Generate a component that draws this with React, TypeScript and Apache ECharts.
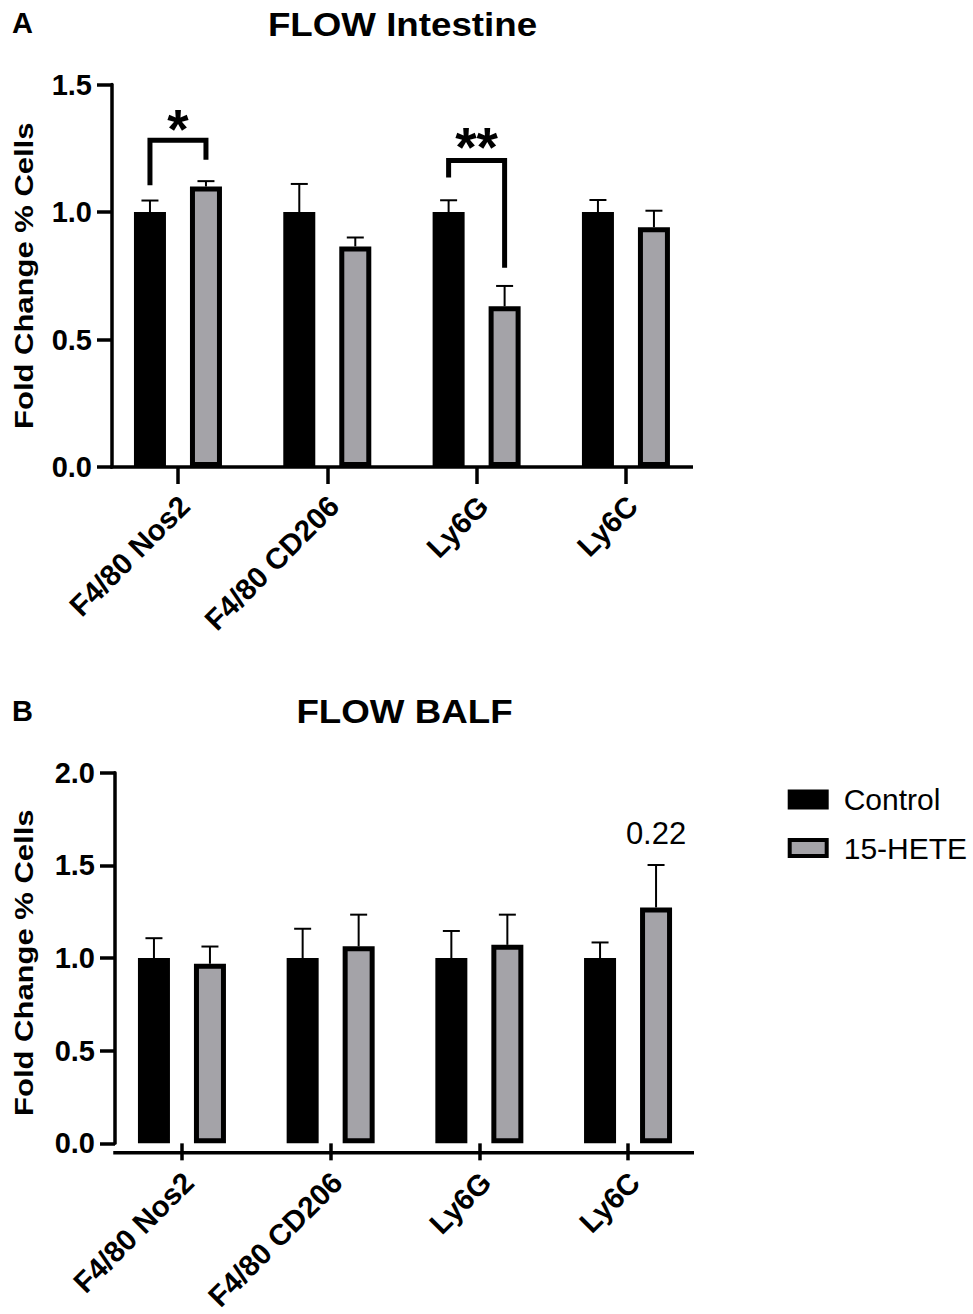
import React, { useEffect, useRef } from 'react';
import * as echarts from 'echarts';

// ---------------- data ----------------
const categories = ['F4/80 Nos2', 'F4/80 CD206', 'Ly6G', 'Ly6C'];
const seriesNames = ['Control', '15-HETE'];

const intestineControl = [1.0, 1.0, 1.0, 1.0];
const intestineControlSem = [0.045, 0.11, 0.046, 0.047];
const intestineHete = [1.1, 0.865, 0.63, 0.94];
const intestineHeteSem = [0.021, 0.035, 0.08, 0.065];

const balfControl = [1.0, 1.0, 1.0, 1.0];
const balfControlSem = [0.107, 0.158, 0.146, 0.084];
const balfHete = [0.969, 1.063, 1.071, 1.273];
const balfHeteSem = [0.093, 0.171, 0.163, 0.229];

const intestineAxis = { min: 0, max: 1.5, interval: 0.5 };
const balfAxis = { min: 0, max: 2.0, interval: 0.5 };

// significance brackets (category index, left leg bottom, top, right leg bottom, label, label y)
const intestineBrackets = [
  { cat: 0, left: 1.105, top: 1.281, right: 1.205, label: '*', labelY: 1.325 },
  { cat: 2, left: 1.135, top: 1.202, right: 0.781, label: '**', labelY: 1.255 },
];
// p-value annotations (category index, group index, y, text)
const balfNotes = [{ cat: 3, group: 1, y: 1.672, label: '0.22' }];

const panelTitles = ['FLOW Intestine', 'FLOW BALF'];
const panelLetters = ['A', 'B'];
const yAxisTitle = 'Fold Change % Cells';

// ---------------- style / layout ----------------
const FONT = '"Liberation Sans", Arial, Helvetica, sans-serif';
const GREY = '#a4a3a8';
const BAR_W = 32;
const BAR_GAP_PX = 24;
const BAR_OFFSET = (BAR_W + BAR_GAP_PX) / 2;
const CAP = 17;

const PANELS = [
  { gridLeft: 103.3, gridTop: 84.5, gridWidth: 597.3, gridHeight: 382.5, axisX: 112, axisEndX: 693, titleY: 24, letterY: 23, titleX: 402.5 },
  { gridLeft: 107.6, gridTop: 772.7, gridWidth: 594.8, gridHeight: 380, axisX: 115, axisEndX: 694, titleY: 711, letterY: 711, titleX: 404.5 },
];

function errorSeries(means: number[], sems: number[], group: number, axisIdx: number) {
  return {
    type: 'custom',
    xAxisIndex: axisIdx,
    yAxisIndex: axisIdx,
    z: 5,
    silent: true,
    data: means.map((m, i) => [i, m, m + sems[i]]),
    encode: { x: 0, y: [1, 2] },
    renderItem: (params: any, api: any) => {
      const base = api.coord([api.value(0), api.value(1)]);
      const top = api.coord([api.value(0), api.value(2)]);
      const x = base[0] + (group === 0 ? -BAR_OFFSET : BAR_OFFSET);
      return {
        type: 'group',
        children: [
          { type: 'line', shape: { x1: x, y1: base[1], x2: x, y2: top[1] }, style: { stroke: '#000', lineWidth: 2 } },
          { type: 'line', shape: { x1: x - CAP / 2, y1: top[1], x2: x + CAP / 2, y2: top[1] }, style: { stroke: '#000', lineWidth: 2 } },
        ],
      };
    },
  };
}

function bracketSeries(list: typeof intestineBrackets, axisIdx: number) {
  return {
    type: 'custom',
    xAxisIndex: axisIdx,
    yAxisIndex: axisIdx,
    z: 6,
    silent: true,
    data: list.map((b) => [b.cat, b.left, b.top, b.right, b.labelY]),
    encode: { x: 0, y: [1, 2, 3, 4] },
    renderItem: (params: any, api: any) => {
      const b = list[params.dataIndex];
      const c = api.value(0);
      const pl = api.coord([c, api.value(1)]);
      const pt = api.coord([c, api.value(2)]);
      const pr = api.coord([c, api.value(3)]);
      const pLab = api.coord([c, api.value(4)]);
      const xl = pl[0] - BAR_OFFSET;
      const xr = pl[0] + BAR_OFFSET;
      return {
        type: 'group',
        children: [
          {
            type: 'polyline',
            shape: { points: [[xl, pl[1]], [xl, pt[1]], [xr, pt[1]], [xr, pr[1]]] },
            style: { stroke: '#000', lineWidth: 5, fill: null, lineJoin: 'miter' },
          },
          {
            type: 'text',
            x: pLab[0],
            y: pLab[1],
            style: { text: b.label, font: `bold 55px ${FONT}`, fill: '#000', textAlign: 'center', textVerticalAlign: 'middle', verticalAlign: 'middle' },
          },
        ],
      };
    },
  };
}

function noteSeries(list: typeof balfNotes, axisIdx: number) {
  return {
    type: 'custom',
    xAxisIndex: axisIdx,
    yAxisIndex: axisIdx,
    z: 6,
    silent: true,
    data: list.map((n) => [n.cat, n.y]),
    encode: { x: 0, y: 1 },
    renderItem: (params: any, api: any) => {
      const n = list[params.dataIndex];
      const p = api.coord([api.value(0), api.value(1)]);
      const x = p[0] + (n.group === 0 ? -BAR_OFFSET : BAR_OFFSET);
      return {
        type: 'text',
        x,
        y: p[1],
        style: { text: n.label, font: `31px ${FONT}`, fill: '#000', textAlign: 'center', textVerticalAlign: 'middle', verticalAlign: 'middle' },
      };
    },
  };
}

export default function App() {
  const ref = useRef<HTMLDivElement>(null);

  useEffect(() => {
    if (!ref.current) return;
    const chart = echarts.init(ref.current, undefined, { renderer: 'svg' });

    const axes = [intestineAxis, balfAxis];

    const grid = PANELS.map((p) => ({ left: p.gridLeft, top: p.gridTop, width: p.gridWidth, height: p.gridHeight, containLabel: false }));

    const xAxis = PANELS.map((p, i) => ({
      gridIndex: i,
      type: 'category',
      data: categories,
      axisLine: { show: false },
      axisTick: { show: true, alignWithLabel: true, length: 17, lineStyle: { color: '#000', width: 3.5 } },
      axisLabel: {
        interval: 0,
        rotate: 45,
        margin: 19,
        padding: [0, 6, 0, 0],
        align: 'right',
        verticalAlign: 'top',
        fontSize: 29.5,
        fontWeight: 'bold',
        fontFamily: FONT,
        color: '#000',
      },
      splitLine: { show: false },
    }));

    const yAxis = PANELS.map((p, i) => ({
      gridIndex: i,
      type: 'value',
      min: axes[i].min,
      max: axes[i].max,
      interval: axes[i].interval,
      offset: p.gridLeft - p.axisX,
      axisLine: { show: true, lineStyle: { color: '#000', width: 3.5 } },
      axisTick: { show: true, length: 15, lineStyle: { color: '#000', width: 3.5 } },
      axisLabel: {
        margin: 20,
        fontSize: 29,
        fontWeight: 'bold',
        fontFamily: FONT,
        color: '#000',
        formatter: (v: number) => v.toFixed(1),
      },
      splitLine: { show: false },
    }));

    const barSeries = (name: string, data: number[], color: string, axisIdx: number) => ({
      name,
      type: 'bar',
      xAxisIndex: axisIdx,
      yAxisIndex: axisIdx,
      data,
      barWidth: BAR_W,
      barGap: `${(BAR_GAP_PX / BAR_W) * 100}%`,
      z: 2,
      itemStyle: { color, borderColor: '#000', borderWidth: 5 },
    });

    const graphic: any[] = [];
    PANELS.forEach((p, i) => {
      const axisY = p.gridTop + p.gridHeight;
      graphic.push({
        type: 'line',
        z: 10,
        shape: { x1: p.axisX - 1.75, y1: axisY, x2: p.axisEndX, y2: axisY },
        style: { stroke: '#000', lineWidth: 3.5 },
      });
      graphic.push({
        type: 'text',
        x: p.titleX,
        y: p.titleY,
        scaleX: 1.08,
        style: { text: panelTitles[i], font: `bold 34px ${FONT}`, fill: '#000', textAlign: 'center', textVerticalAlign: 'middle', verticalAlign: 'middle' },
      });
      graphic.push({
        type: 'text',
        x: 12,
        y: p.letterY,
        style: { text: panelLetters[i], font: `bold 29px ${FONT}`, fill: '#000', textAlign: 'left', textVerticalAlign: 'middle', verticalAlign: 'middle' },
      });
      graphic.push({
        type: 'text',
        x: 24,
        y: p.gridTop + p.gridHeight / 2,
        rotation: Math.PI / 2,
        scaleY: 0.85,
        style: { text: yAxisTitle, font: `bold 31px ${FONT}`, fill: '#000', textAlign: 'center', textVerticalAlign: 'middle', verticalAlign: 'middle' },
      });
    });

    chart.setOption({
      animation: false,
      backgroundColor: '#fff',
      textStyle: { fontFamily: FONT },
      grid,
      xAxis,
      yAxis,
      legend: {
        show: true,
        orient: 'vertical',
        left: 782.7,
        top: 779.5,
        icon: 'rect',
        itemWidth: 37,
        itemHeight: 16,
        itemGap: 18.5,
        selectedMode: false,
        data: seriesNames,
        itemStyle: { borderColor: '#000', borderWidth: 4 },
        textStyle: { fontSize: 30, color: '#000', fontFamily: FONT, padding: [0, 0, 0, 12] },
      },
      series: [
        barSeries(seriesNames[0], intestineControl, '#000', 0),
        barSeries(seriesNames[1], intestineHete, GREY, 0),
        barSeries(seriesNames[0], balfControl, '#000', 1),
        barSeries(seriesNames[1], balfHete, GREY, 1),
        errorSeries(intestineControl, intestineControlSem, 0, 0),
        errorSeries(intestineHete, intestineHeteSem, 1, 0),
        errorSeries(balfControl, balfControlSem, 0, 1),
        errorSeries(balfHete, balfHeteSem, 1, 1),
        bracketSeries(intestineBrackets, 0),
        noteSeries(balfNotes, 1),
      ],
      graphic,
    });

    return () => chart.dispose();
  }, []);

  return <div ref={ref} style={{ position: 'absolute', left: 0, top: 0, width: 973, height: 1314 }} />;
}
